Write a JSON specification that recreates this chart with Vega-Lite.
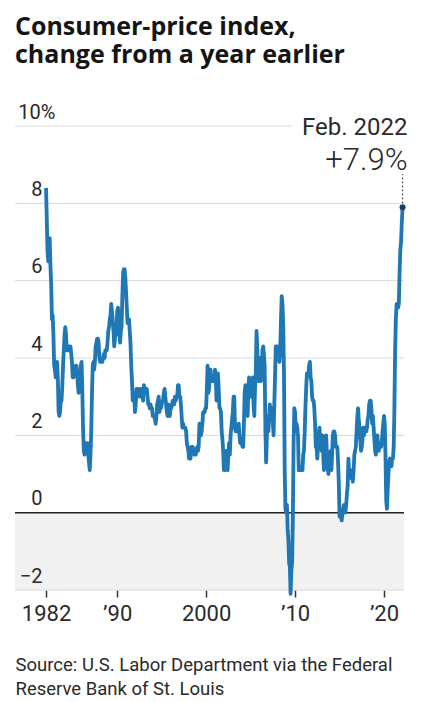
{
  "$schema": "https://vega.github.io/schema/vega-lite/v6.json",
  "width": 389,
  "height": 464,
  "autosize": {"type": "none"},
  "padding": {"left": 15, "top": 126, "right": 21, "bottom": 112},
  "background": "white",
  "config": {"view": {"stroke": null}, "font": "Roboto"},
  "title": {
    "text": ["Consumer-price index,", "change from a year earlier"],
    "anchor": "start",
    "frame": "group",
    "font": "Open Sans",
    "fontSize": 25,
    "fontWeight": "bold",
    "lineHeight": 28,
    "color": "#151515",
    "offset": 34
  },
  "datasets": {
    "cpi": [
      {"d":"1982-01","v":8.4},{"d":"1982-02","v":7.6},{"d":"1982-03","v":6.8},{"d":"1982-04","v":6.5},{"d":"1982-05","v":6.7},{"d":"1982-06","v":7.1},{"d":"1982-07","v":6.4},{"d":"1982-08","v":5.9},{"d":"1982-09","v":5.0},{"d":"1982-10","v":5.1},{"d":"1982-11","v":4.6},{"d":"1982-12","v":3.8},
      {"d":"1983-01","v":3.7},{"d":"1983-02","v":3.5},{"d":"1983-03","v":3.6},{"d":"1983-04","v":3.9},{"d":"1983-05","v":3.5},{"d":"1983-06","v":2.6},{"d":"1983-07","v":2.5},{"d":"1983-08","v":2.6},{"d":"1983-09","v":2.9},{"d":"1983-10","v":2.9},{"d":"1983-11","v":3.3},{"d":"1983-12","v":3.8},
      {"d":"1984-01","v":4.2},{"d":"1984-02","v":4.6},{"d":"1984-03","v":4.8},{"d":"1984-04","v":4.6},{"d":"1984-05","v":4.2},{"d":"1984-06","v":4.2},{"d":"1984-07","v":4.2},{"d":"1984-08","v":4.3},{"d":"1984-09","v":4.3},{"d":"1984-10","v":4.3},{"d":"1984-11","v":4.1},{"d":"1984-12","v":3.9},
      {"d":"1985-01","v":3.5},{"d":"1985-02","v":3.5},{"d":"1985-03","v":3.7},{"d":"1985-04","v":3.7},{"d":"1985-05","v":3.8},{"d":"1985-06","v":3.8},{"d":"1985-07","v":3.6},{"d":"1985-08","v":3.3},{"d":"1985-09","v":3.1},{"d":"1985-10","v":3.2},{"d":"1985-11","v":3.5},{"d":"1985-12","v":3.8},
      {"d":"1986-01","v":3.9},{"d":"1986-02","v":3.1},{"d":"1986-03","v":2.2},{"d":"1986-04","v":1.6},{"d":"1986-05","v":1.5},{"d":"1986-06","v":1.8},{"d":"1986-07","v":1.6},{"d":"1986-08","v":1.6},{"d":"1986-09","v":1.8},{"d":"1986-10","v":1.5},{"d":"1986-11","v":1.3},{"d":"1986-12","v":1.1},
      {"d":"1987-01","v":1.5},{"d":"1987-02","v":2.1},{"d":"1987-03","v":3.0},{"d":"1987-04","v":3.8},{"d":"1987-05","v":3.9},{"d":"1987-06","v":3.7},{"d":"1987-07","v":3.9},{"d":"1987-08","v":4.3},{"d":"1987-09","v":4.4},{"d":"1987-10","v":4.5},{"d":"1987-11","v":4.5},{"d":"1987-12","v":4.4},
      {"d":"1988-01","v":4.0},{"d":"1988-02","v":3.9},{"d":"1988-03","v":3.9},{"d":"1988-04","v":3.9},{"d":"1988-05","v":3.9},{"d":"1988-06","v":4.0},{"d":"1988-07","v":4.1},{"d":"1988-08","v":4.0},{"d":"1988-09","v":4.2},{"d":"1988-10","v":4.2},{"d":"1988-11","v":4.2},{"d":"1988-12","v":4.4},
      {"d":"1989-01","v":4.7},{"d":"1989-02","v":4.8},{"d":"1989-03","v":5.0},{"d":"1989-04","v":5.1},{"d":"1989-05","v":5.4},{"d":"1989-06","v":5.2},{"d":"1989-07","v":5.0},{"d":"1989-08","v":4.7},{"d":"1989-09","v":4.3},{"d":"1989-10","v":4.5},{"d":"1989-11","v":4.7},{"d":"1989-12","v":4.6},
      {"d":"1990-01","v":5.2},{"d":"1990-02","v":5.3},{"d":"1990-03","v":5.2},{"d":"1990-04","v":4.7},{"d":"1990-05","v":4.4},{"d":"1990-06","v":4.7},{"d":"1990-07","v":4.8},{"d":"1990-08","v":5.6},{"d":"1990-09","v":6.2},{"d":"1990-10","v":6.3},{"d":"1990-11","v":6.3},{"d":"1990-12","v":6.1},
      {"d":"1991-01","v":5.7},{"d":"1991-02","v":5.3},{"d":"1991-03","v":4.9},{"d":"1991-04","v":4.9},{"d":"1991-05","v":5.0},{"d":"1991-06","v":4.7},{"d":"1991-07","v":4.4},{"d":"1991-08","v":3.8},{"d":"1991-09","v":3.4},{"d":"1991-10","v":2.9},{"d":"1991-11","v":3.0},{"d":"1991-12","v":3.1},
      {"d":"1992-01","v":2.6},{"d":"1992-02","v":2.8},{"d":"1992-03","v":3.2},{"d":"1992-04","v":3.2},{"d":"1992-05","v":3.0},{"d":"1992-06","v":3.1},{"d":"1992-07","v":3.2},{"d":"1992-08","v":3.1},{"d":"1992-09","v":3.0},{"d":"1992-10","v":3.2},{"d":"1992-11","v":3.0},{"d":"1992-12","v":2.9},
      {"d":"1993-01","v":3.3},{"d":"1993-02","v":3.2},{"d":"1993-03","v":3.1},{"d":"1993-04","v":3.2},{"d":"1993-05","v":3.2},{"d":"1993-06","v":3.0},{"d":"1993-07","v":2.8},{"d":"1993-08","v":2.8},{"d":"1993-09","v":2.7},{"d":"1993-10","v":2.8},{"d":"1993-11","v":2.7},{"d":"1993-12","v":2.7},
      {"d":"1994-01","v":2.5},{"d":"1994-02","v":2.5},{"d":"1994-03","v":2.5},{"d":"1994-04","v":2.4},{"d":"1994-05","v":2.3},{"d":"1994-06","v":2.5},{"d":"1994-07","v":2.8},{"d":"1994-08","v":2.9},{"d":"1994-09","v":3.0},{"d":"1994-10","v":2.6},{"d":"1994-11","v":2.7},{"d":"1994-12","v":2.7},
      {"d":"1995-01","v":2.8},{"d":"1995-02","v":2.9},{"d":"1995-03","v":2.9},{"d":"1995-04","v":3.1},{"d":"1995-05","v":3.2},{"d":"1995-06","v":3.0},{"d":"1995-07","v":2.8},{"d":"1995-08","v":2.6},{"d":"1995-09","v":2.5},{"d":"1995-10","v":2.8},{"d":"1995-11","v":2.6},{"d":"1995-12","v":2.5},
      {"d":"1996-01","v":2.7},{"d":"1996-02","v":2.7},{"d":"1996-03","v":2.8},{"d":"1996-04","v":2.9},{"d":"1996-05","v":2.9},{"d":"1996-06","v":2.8},{"d":"1996-07","v":3.0},{"d":"1996-08","v":2.9},{"d":"1996-09","v":3.0},{"d":"1996-10","v":3.0},{"d":"1996-11","v":3.3},{"d":"1996-12","v":3.3},
      {"d":"1997-01","v":3.0},{"d":"1997-02","v":3.0},{"d":"1997-03","v":2.8},{"d":"1997-04","v":2.5},{"d":"1997-05","v":2.2},{"d":"1997-06","v":2.3},{"d":"1997-07","v":2.2},{"d":"1997-08","v":2.2},{"d":"1997-09","v":2.2},{"d":"1997-10","v":2.1},{"d":"1997-11","v":1.8},{"d":"1997-12","v":1.7},
      {"d":"1998-01","v":1.6},{"d":"1998-02","v":1.4},{"d":"1998-03","v":1.4},{"d":"1998-04","v":1.4},{"d":"1998-05","v":1.7},{"d":"1998-06","v":1.7},{"d":"1998-07","v":1.7},{"d":"1998-08","v":1.6},{"d":"1998-09","v":1.5},{"d":"1998-10","v":1.5},{"d":"1998-11","v":1.5},{"d":"1998-12","v":1.6},
      {"d":"1999-01","v":1.7},{"d":"1999-02","v":1.6},{"d":"1999-03","v":1.7},{"d":"1999-04","v":2.3},{"d":"1999-05","v":2.1},{"d":"1999-06","v":2.0},{"d":"1999-07","v":2.1},{"d":"1999-08","v":2.3},{"d":"1999-09","v":2.6},{"d":"1999-10","v":2.6},{"d":"1999-11","v":2.6},{"d":"1999-12","v":2.7},
      {"d":"2000-01","v":2.7},{"d":"2000-02","v":3.2},{"d":"2000-03","v":3.8},{"d":"2000-04","v":3.1},{"d":"2000-05","v":3.2},{"d":"2000-06","v":3.7},{"d":"2000-07","v":3.7},{"d":"2000-08","v":3.4},{"d":"2000-09","v":3.5},{"d":"2000-10","v":3.4},{"d":"2000-11","v":3.4},{"d":"2000-12","v":3.4},
      {"d":"2001-01","v":3.7},{"d":"2001-02","v":3.5},{"d":"2001-03","v":2.9},{"d":"2001-04","v":3.3},{"d":"2001-05","v":3.6},{"d":"2001-06","v":3.2},{"d":"2001-07","v":2.7},{"d":"2001-08","v":2.7},{"d":"2001-09","v":2.6},{"d":"2001-10","v":2.1},{"d":"2001-11","v":1.9},{"d":"2001-12","v":1.6},
      {"d":"2002-01","v":1.1},{"d":"2002-02","v":1.1},{"d":"2002-03","v":1.5},{"d":"2002-04","v":1.6},{"d":"2002-05","v":1.2},{"d":"2002-06","v":1.1},{"d":"2002-07","v":1.5},{"d":"2002-08","v":1.8},{"d":"2002-09","v":1.5},{"d":"2002-10","v":2.0},{"d":"2002-11","v":2.2},{"d":"2002-12","v":2.4},
      {"d":"2003-01","v":2.6},{"d":"2003-02","v":3.0},{"d":"2003-03","v":3.0},{"d":"2003-04","v":2.2},{"d":"2003-05","v":2.1},{"d":"2003-06","v":2.1},{"d":"2003-07","v":2.1},{"d":"2003-08","v":2.2},{"d":"2003-09","v":2.3},{"d":"2003-10","v":2.0},{"d":"2003-11","v":1.8},{"d":"2003-12","v":1.9},
      {"d":"2004-01","v":1.9},{"d":"2004-02","v":1.7},{"d":"2004-03","v":1.7},{"d":"2004-04","v":2.3},{"d":"2004-05","v":3.1},{"d":"2004-06","v":3.3},{"d":"2004-07","v":3.0},{"d":"2004-08","v":2.7},{"d":"2004-09","v":2.5},{"d":"2004-10","v":3.2},{"d":"2004-11","v":3.5},{"d":"2004-12","v":3.3},
      {"d":"2005-01","v":3.0},{"d":"2005-02","v":3.0},{"d":"2005-03","v":3.1},{"d":"2005-04","v":3.5},{"d":"2005-05","v":2.8},{"d":"2005-06","v":2.5},{"d":"2005-07","v":3.2},{"d":"2005-08","v":3.6},{"d":"2005-09","v":4.7},{"d":"2005-10","v":4.3},{"d":"2005-11","v":3.5},{"d":"2005-12","v":3.4},
      {"d":"2006-01","v":4.0},{"d":"2006-02","v":3.6},{"d":"2006-03","v":3.4},{"d":"2006-04","v":3.5},{"d":"2006-05","v":4.2},{"d":"2006-06","v":4.3},{"d":"2006-07","v":4.1},{"d":"2006-08","v":3.8},{"d":"2006-09","v":2.1},{"d":"2006-10","v":1.3},{"d":"2006-11","v":2.0},{"d":"2006-12","v":2.5},
      {"d":"2007-01","v":2.1},{"d":"2007-02","v":2.4},{"d":"2007-03","v":2.8},{"d":"2007-04","v":2.6},{"d":"2007-05","v":2.7},{"d":"2007-06","v":2.7},{"d":"2007-07","v":2.4},{"d":"2007-08","v":2.0},{"d":"2007-09","v":2.8},{"d":"2007-10","v":3.5},{"d":"2007-11","v":4.3},{"d":"2007-12","v":4.1},
      {"d":"2008-01","v":4.3},{"d":"2008-02","v":4.0},{"d":"2008-03","v":4.0},{"d":"2008-04","v":3.9},{"d":"2008-05","v":4.2},{"d":"2008-06","v":5.0},{"d":"2008-07","v":5.6},{"d":"2008-08","v":5.4},{"d":"2008-09","v":4.9},{"d":"2008-10","v":3.7},{"d":"2008-11","v":1.1},{"d":"2008-12","v":0.1},
      {"d":"2009-01","v":0.0},{"d":"2009-02","v":0.2},{"d":"2009-03","v":-0.4},{"d":"2009-04","v":-0.7},{"d":"2009-05","v":-1.3},{"d":"2009-06","v":-1.4},{"d":"2009-07","v":-2.1},{"d":"2009-08","v":-1.5},{"d":"2009-09","v":-1.3},{"d":"2009-10","v":-0.2},{"d":"2009-11","v":1.8},{"d":"2009-12","v":2.7},
      {"d":"2010-01","v":2.6},{"d":"2010-02","v":2.1},{"d":"2010-03","v":2.3},{"d":"2010-04","v":2.2},{"d":"2010-05","v":2.0},{"d":"2010-06","v":1.1},{"d":"2010-07","v":1.2},{"d":"2010-08","v":1.1},{"d":"2010-09","v":1.1},{"d":"2010-10","v":1.2},{"d":"2010-11","v":1.1},{"d":"2010-12","v":1.5},
      {"d":"2011-01","v":1.6},{"d":"2011-02","v":2.1},{"d":"2011-03","v":2.7},{"d":"2011-04","v":3.2},{"d":"2011-05","v":3.6},{"d":"2011-06","v":3.6},{"d":"2011-07","v":3.6},{"d":"2011-08","v":3.8},{"d":"2011-09","v":3.9},{"d":"2011-10","v":3.5},{"d":"2011-11","v":3.4},{"d":"2011-12","v":3.0},
      {"d":"2012-01","v":2.9},{"d":"2012-02","v":2.9},{"d":"2012-03","v":2.7},{"d":"2012-04","v":2.3},{"d":"2012-05","v":1.7},{"d":"2012-06","v":1.7},{"d":"2012-07","v":1.4},{"d":"2012-08","v":1.7},{"d":"2012-09","v":2.0},{"d":"2012-10","v":2.2},{"d":"2012-11","v":1.8},{"d":"2012-12","v":1.7},
      {"d":"2013-01","v":1.6},{"d":"2013-02","v":2.0},{"d":"2013-03","v":1.5},{"d":"2013-04","v":1.1},{"d":"2013-05","v":1.4},{"d":"2013-06","v":1.8},{"d":"2013-07","v":2.0},{"d":"2013-08","v":1.5},{"d":"2013-09","v":1.2},{"d":"2013-10","v":1.0},{"d":"2013-11","v":1.2},{"d":"2013-12","v":1.5},
      {"d":"2014-01","v":1.6},{"d":"2014-02","v":1.1},{"d":"2014-03","v":1.5},{"d":"2014-04","v":2.0},{"d":"2014-05","v":2.1},{"d":"2014-06","v":2.1},{"d":"2014-07","v":2.0},{"d":"2014-08","v":1.7},{"d":"2014-09","v":1.7},{"d":"2014-10","v":1.7},{"d":"2014-11","v":1.3},{"d":"2014-12","v":0.8},
      {"d":"2015-01","v":-0.1},{"d":"2015-02","v":0.0},{"d":"2015-03","v":-0.1},{"d":"2015-04","v":-0.2},{"d":"2015-05","v":0.0},{"d":"2015-06","v":0.1},{"d":"2015-07","v":0.2},{"d":"2015-08","v":0.2},{"d":"2015-09","v":0.0},{"d":"2015-10","v":0.2},{"d":"2015-11","v":0.5},{"d":"2015-12","v":0.7},
      {"d":"2016-01","v":1.4},{"d":"2016-02","v":1.0},{"d":"2016-03","v":0.9},{"d":"2016-04","v":1.1},{"d":"2016-05","v":1.0},{"d":"2016-06","v":1.0},{"d":"2016-07","v":0.8},{"d":"2016-08","v":1.1},{"d":"2016-09","v":1.5},{"d":"2016-10","v":1.6},{"d":"2016-11","v":1.7},{"d":"2016-12","v":2.1},
      {"d":"2017-01","v":2.5},{"d":"2017-02","v":2.7},{"d":"2017-03","v":2.4},{"d":"2017-04","v":2.2},{"d":"2017-05","v":1.9},{"d":"2017-06","v":1.6},{"d":"2017-07","v":1.7},{"d":"2017-08","v":1.9},{"d":"2017-09","v":2.2},{"d":"2017-10","v":2.0},{"d":"2017-11","v":2.2},{"d":"2017-12","v":2.1},
      {"d":"2018-01","v":2.1},{"d":"2018-02","v":2.2},{"d":"2018-03","v":2.4},{"d":"2018-04","v":2.5},{"d":"2018-05","v":2.8},{"d":"2018-06","v":2.9},{"d":"2018-07","v":2.9},{"d":"2018-08","v":2.7},{"d":"2018-09","v":2.3},{"d":"2018-10","v":2.5},{"d":"2018-11","v":2.2},{"d":"2018-12","v":1.9},
      {"d":"2019-01","v":1.6},{"d":"2019-02","v":1.5},{"d":"2019-03","v":1.9},{"d":"2019-04","v":2.0},{"d":"2019-05","v":1.8},{"d":"2019-06","v":1.6},{"d":"2019-07","v":1.8},{"d":"2019-08","v":1.7},{"d":"2019-09","v":1.7},{"d":"2019-10","v":1.8},{"d":"2019-11","v":2.1},{"d":"2019-12","v":2.3},
      {"d":"2020-01","v":2.5},{"d":"2020-02","v":2.3},{"d":"2020-03","v":1.5},{"d":"2020-04","v":0.3},{"d":"2020-05","v":0.1},{"d":"2020-06","v":0.6},{"d":"2020-07","v":1.0},{"d":"2020-08","v":1.3},{"d":"2020-09","v":1.4},{"d":"2020-10","v":1.2},{"d":"2020-11","v":1.2},{"d":"2020-12","v":1.4},
      {"d":"2021-01","v":1.4},{"d":"2021-02","v":1.7},{"d":"2021-03","v":2.6},{"d":"2021-04","v":4.2},{"d":"2021-05","v":5.0},{"d":"2021-06","v":5.4},{"d":"2021-07","v":5.4},{"d":"2021-08","v":5.3},{"d":"2021-09","v":5.4},{"d":"2021-10","v":6.2},{"d":"2021-11","v":6.8},{"d":"2021-12","v":7.0},
      {"d":"2022-01","v":7.5},{"d":"2022-02","v":7.9}
    ],
    "latest": [{"d":"2022-02","v":7.9,"month":"Feb. 2022","change":"+7.9%"}],
    "band": [{"lo":-2,"hi":0}],
    "gridlines": [{"g":-2},{"g":2},{"g":4},{"g":6},{"g":8},{"g":10}]
  },
  "layer": [
    {
      "data": {"name": "band"},
      "mark": {"type": "rect", "color": "#f1f1f1"},
      "encoding": {
        "y": {"field": "lo", "type": "quantitative", "scale": {"domain": [-2, 10], "nice": false, "zero": false},
          "axis": {
            "values": [-2, 0, 2, 4, 6, 8, 10],
            "grid": false,
            "domain": false,
            "ticks": false,
            "tickSize": 0,
            "zindex": 1,
            "labelAlign": "right",
            "labelBaseline": "alphabetic",
            "labelOffset": -8,
            "labelPadding": {"condition": {"test": "datum.value == 10", "value": -40}, "value": -27},
            "labelExpr": "datum.value == 10 ? '10%' : datum.label",
            "labelFont": "Roboto",
            "labelFontSize": 20,
            "labelColor": "#2a2a2a",
            "title": null
          }
        },
        "y2": {"field": "hi"}
      }
    },
    {
      "data": {"name": "gridlines"},
      "mark": {"type": "rule", "color": "#d9d9d9", "strokeWidth": 1},
      "encoding": {"y": {"field": "g", "type": "quantitative"}}
    },
    {
      "data": {"name": "band"},
      "mark": {"type": "rule", "color": "#222222", "strokeWidth": 1.5},
      "encoding": {"y": {"field": "hi", "type": "quantitative"}}
    },
    {
      "data": {"name": "latest"},
      "mark": {"type": "text", "align": "right", "baseline": "alphabetic", "dx": 5, "dy": -72, "fontSize": 24, "font": "Roboto", "fill": "white", "stroke": "white", "strokeWidth": 24, "strokeJoin": "round"},
      "encoding": {"x": {"field": "d", "type": "temporal"}, "y": {"field": "v", "type": "quantitative"}, "text": {"field": "month"}}
    },
    {
      "data": {"name": "latest"},
      "mark": {"type": "text", "align": "right", "baseline": "alphabetic", "dx": 5, "dy": -37, "fontSize": 31, "font": "Roboto", "fill": "white", "stroke": "white", "strokeWidth": 12, "strokeJoin": "round"},
      "encoding": {"x": {"field": "d", "type": "temporal"}, "y": {"field": "v", "type": "quantitative"}, "text": {"field": "change"}}
    },
    {
      "data": {"name": "cpi"},
      "mark": {"type": "line", "color": "#1f77b4", "strokeWidth": 3.8, "strokeJoin": "round"},
      "encoding": {
        "x": {
          "field": "d",
          "type": "temporal",
          "scale": {"domain": [{"year":1978,"month":7,"date":7}, {"year":2022,"month":4,"date":1}]},
          "axis": {
            "values": [{"year":1982,"month":1,"date":1},{"year":1990,"month":1,"date":1},{"year":2000,"month":1,"date":1},{"year":2010,"month":1,"date":1},{"year":2020,"month":1,"date":1}],
            "format": "%Y",
            "labelExpr": "datum.label == '1982' || datum.label == '2000' ? datum.label : '’' + slice(datum.label, 2)",
            "grid": false,
            "domain": false,
            "ticks": true,
            "tickSize": 7,
            "tickWidth": 1.5,
            "tickColor": "#333333",
            "labelFont": "Roboto",
            "labelFontSize": 22,
            "labelColor": "#2a2a2a",
            "labelPadding": 6,
            "labelFlush": false,
            "title": ["Source: U.S. Labor Department via the Federal", "Reserve Bank of St. Louis"],
            "titleAnchor": "start",
            "titleAlign": "left",
            "titleFont": "Roboto",
            "titleFontSize": 18.5,
            "titleFontWeight": "normal",
            "titleColor": "#2a2a2a",
            "titleLineHeight": 24,
            "titlePadding": 31
          }
        },
        "y": {"field": "v", "type": "quantitative"}
      }
    },
    {
      "data": {"name": "latest"},
      "mark": {"type": "rule", "color": "#333333", "strokeWidth": 1.2, "strokeDash": [1.5, 2.5]},
      "encoding": {"x": {"field": "d", "type": "temporal"}, "y": {"field": "v", "type": "quantitative"}, "y2": {"datum": 8.75}}
    },
    {
      "data": {"name": "latest"},
      "mark": {"type": "circle", "color": "#1d3f5e", "size": 36, "opacity": 1},
      "encoding": {"x": {"field": "d", "type": "temporal"}, "y": {"field": "v", "type": "quantitative"}}
    },
    {
      "data": {"name": "latest"},
      "mark": {"type": "text", "align": "right", "baseline": "alphabetic", "dx": 5, "dy": -72, "fontSize": 24, "font": "Roboto", "color": "#2a2a2a"},
      "encoding": {"x": {"field": "d", "type": "temporal"}, "y": {"field": "v", "type": "quantitative"}, "text": {"field": "month"}}
    },
    {
      "data": {"name": "latest"},
      "mark": {"type": "text", "align": "right", "baseline": "alphabetic", "dx": 5, "dy": -37, "fontSize": 31, "font": "Roboto", "fontWeight": 300, "color": "#2a2a2a"},
      "encoding": {"x": {"field": "d", "type": "temporal"}, "y": {"field": "v", "type": "quantitative"}, "text": {"field": "change"}}
    }
  ]
}
